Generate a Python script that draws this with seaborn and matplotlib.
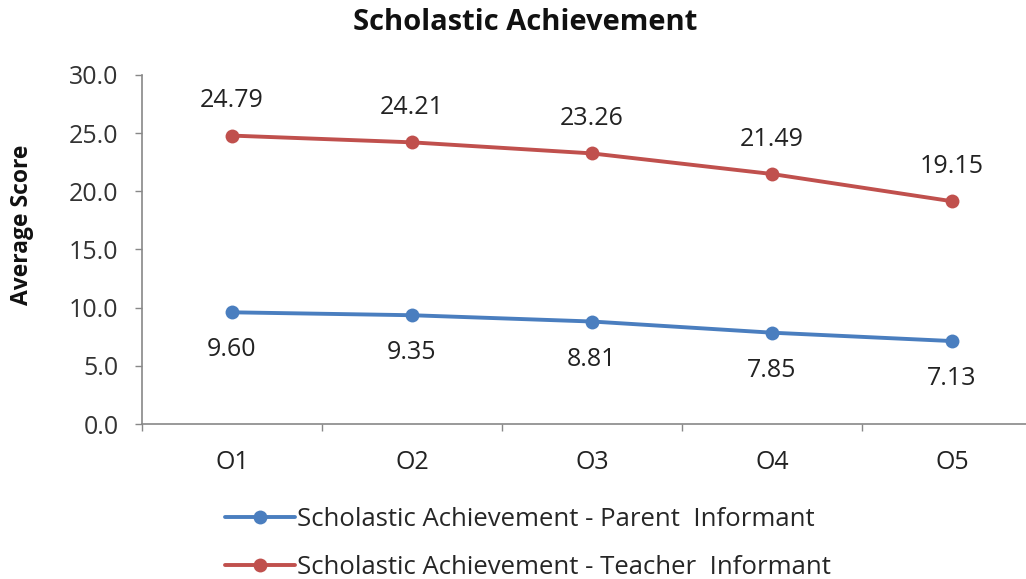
import matplotlib
matplotlib.use("Agg")
import matplotlib.pyplot as plt
import seaborn as sns
import pandas as pd
import numpy as np

# Scores per observation occasion
occasions = ["O1", "O2", "O3", "O4", "O5"]
parent_scores = [9.60, 9.35, 8.81, 7.85, 7.13]
teacher_scores = [24.79, 24.21, 23.26, 21.49, 19.15]
series_names = ["Scholastic Achievement - Parent  Informant",
                "Scholastic Achievement - Teacher  Informant"]
y_ticks = [0.0, 5.0, 10.0, 15.0, 20.0, 25.0, 30.0]

df = pd.DataFrame({
    "occasion": occasions * 2,
    "idx": list(range(len(occasions))) * 2,
    "score": parent_scores + teacher_scores,
    "series": [series_names[0]] * len(occasions) + [series_names[1]] * len(occasions),
})

sns.set_theme(style="white")
plt.rcParams["font.family"] = ["Open Sans", "DejaVu Sans"]

colors = {series_names[0]: "#4A7EBF", series_names[1]: "#C0504D"}

fig = plt.figure(figsize=(10.26, 5.79), dpi=100)
ax = fig.add_axes([0.1384, 0.2677, 0.877, 0.6028])

sns.lineplot(data=df, x="idx", y="score", hue="series", palette=colors,
             marker="o", markersize=10, markeredgewidth=0, linewidth=2.8,
             ax=ax, legend=True)

# Value labels: teacher above, parent below
for i, v in enumerate(teacher_scores):
    ax.annotate(f"{v:.2f}", (i, v), xytext=(0, 25), textcoords="offset points",
                ha="center", va="center", fontsize=18, color="#222222")
for i, v in enumerate(parent_scores):
    ax.annotate(f"{v:.2f}", (i, v), xytext=(0, -27), textcoords="offset points",
                ha="center", va="center", fontsize=18, color="#222222")

ax.set_xlim(-0.5, len(occasions) - 0.5)
ax.set_ylim(0, 30)
ax.set_yticks(y_ticks)
ax.set_yticklabels([f"{t:.1f}" for t in y_ticks], fontsize=18, color="#333333")
ax.set_xticks(range(len(occasions)))
ax.set_xticklabels(occasions, fontsize=18, color="#222222")
ax.set_xticks(np.arange(-0.5, len(occasions), 1.0), minor=True)
ax.tick_params(axis="x", which="major", length=0, pad=19)
ax.tick_params(axis="x", which="minor", length=5, color="#888888", width=1, direction="out", bottom=True)
ax.tick_params(axis="y", length=5, color="#888888", width=1, direction="out", left=True, pad=12)
ax.set_xlabel("")
ax.set_ylabel("")

for s in ["top", "right"]:
    ax.spines[s].set_visible(False)
for s in ["left", "bottom"]:
    ax.spines[s].set_color("#888888")
    ax.spines[s].set_linewidth(1.2)

fig.text(0.0215, 0.611, "Average Score", rotation=90, ha="center", va="center",
         fontsize=16.5, fontweight="bold", color="#111111")
fig.text(0.512, 0.962, "Scholastic Achievement", ha="center", va="center",
         fontsize=21, fontweight="bold", color="#111111")

handles, labels = ax.get_legend_handles_labels()
ax.get_legend().remove()
fig.legend(handles, labels, loc="center", bbox_to_anchor=(0.515, 0.061),
           ncol=1, frameon=False, fontsize=18.5, handlelength=2.7,
           handletextpad=0.1, labelspacing=0.88)

fig.savefig("out.png", dpi=100, facecolor="white")
